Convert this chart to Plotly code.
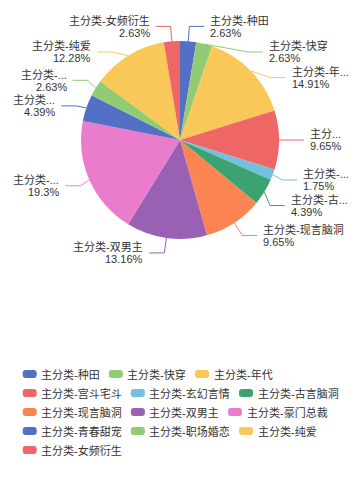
import math
import plotly.graph_objects as go

# ---------------- data ----------------
categories = ["主分类-种田", "主分类-快穿", "主分类-年代", "主分类-宫斗宅斗", "主分类-玄幻言情",
              "主分类-古言脑洞", "主分类-现言脑洞", "主分类-双男主", "主分类-豪门总裁",
              "主分类-青春甜宠", "主分类-职场婚恋", "主分类-纯爱", "主分类-女频衍生"]
counts = [3, 3, 17, 11, 2, 5, 11, 15, 22, 5, 3, 14, 3]
palette = ["#5470c6", "#91cc75", "#fac858", "#ee6666", "#73c0de",
           "#3ba272", "#fc8452", "#9a60b4", "#ea7ccc"]

# ---------------- layout constants ----------------
W, H = 360, 480
CX, CY, R = 180.0, 140.0, 99.0
LEN1, LEN2, DIST = 15.0, 15.0, 5.0
LABEL_H = 25.6
EDGE = 11.8
FS = 11
FONT = "Liberation Sans, Noto Sans CJK SC, sans-serif"
TXT = "#333333"
L_UP, L_DN = 6.1, 6.4          # offsets of the two label lines
LEG_X0, LEG_Y0, LEG_DY = 22.7, 374.0, 19.0
ICON_W, ICON_H, ICON_R = 14.0, 8.0, 3.0
ICON_TXT, ITEM_GAP = 17.5, 10.0

colors = [palette[i % len(palette)] for i in range(len(categories))]
total = float(sum(counts))


def pct_text(v):
    s = "%.2f" % round(v / total * 100, 2)
    s = s.rstrip("0").rstrip(".")
    return s + "%"


def char_w(c):
    if ord(c) > 0x2E80:
        return FS * 1.0
    if c == "-":
        return FS * 0.333
    if c == ".":
        return FS * 0.278
    if c == "%":
        return FS * 0.889
    return FS * 0.556


def text_w(s):
    return sum(char_w(c) for c in s)


def truncate(s, avail):
    if text_w(s) <= avail:
        return s
    ell = "..."
    for n in range(len(s) - 1, 0, -1):
        t = s[:n] + ell
        if text_w(t) <= avail:
            return t
    return ell


# ---------------- label layout (pie outer labels) ----------------
items = []
acc = 0.0
for i, v in enumerate(counts):
    mid = (acc + v / 2.0) / total * 2 * math.pi
    acc += v
    dx, dy = math.sin(mid), -math.cos(mid)
    d = -1 if dx < 0 else 1
    x1, y1 = CX + R * dx, CY + R * dy
    x2, y2 = CX + (R + LEN1) * dx, CY + (R + LEN1) * dy
    x3 = x2 + d * LEN2
    items.append(dict(i=i, d=d, x1=x1, y1=y1, x=x3 + d * DIST, y=y2))


def shift_side(lst):
    lst.sort(key=lambda it: it["y"])
    last = 0.0
    adjusted = False
    for it in lst:
        top = it["y"] - LABEL_H / 2
        delta = top - last
        if delta < 0:
            it["y"] -= delta
            adjusted = True
        last = it["y"] + LABEL_H / 2
    return adjusted


def recalc_x(lst, d):
    semis = [dict(list=[], maxY=0.0, rB=R + LEN1), dict(list=[], maxY=0.0, rB=R + LEN1)]
    rA = R + LEN1
    for it in lst:
        semi = semis[1] if it["y"] > CY else semis[0]
        dyy = abs(it["y"] - CY)
        if dyy >= semi["maxY"]:
            dxx = it["x"] - CX - LEN2 * d
            if abs(dxx) < rA:
                semi["rB"] = math.sqrt(dyy * dyy / (1 - dxx * dxx / rA / rA))
            else:
                semi["rB"] = rA
            semi["maxY"] = dyy
        semi["list"].append(it)
    for semi in semis:
        rB = semi["rB"]
        for it in semi["list"]:
            dyy = abs(it["y"] - CY)
            k = max(0.0, 1 - dyy * dyy / (rB * rB))
            it["x"] = CX + (math.sqrt(k) * rA + LEN2) * d


for d in (1, -1):
    side = [it for it in items if it["d"] == d]
    if len(side) > 1 and shift_side(side):
        recalc_x(side, d)

# ---------------- figure ----------------
fig = go.Figure()

fig.add_trace(go.Pie(
    labels=categories, values=counts, sort=False, direction="clockwise", rotation=0,
    marker=dict(colors=colors, line=dict(width=0)),
    textinfo="none", hoverinfo="label+percent", showlegend=False,
    domain=dict(x=[(CX - R) / W, (CX + R) / W], y=[1 - (CY + R) / H, 1 - (CY - R) / H]),
))

annotations = []
shapes = []
for it in items:
    i, d = it["i"], it["d"]
    end_x = it["x"] - d * DIST
    elbow_x = end_x - d * LEN2
    fig.add_trace(go.Scatter(
        x=[it["x1"], elbow_x, end_x], y=[it["y1"], it["y"], it["y"]],
        mode="lines", line=dict(color=colors[i], width=1),
        hoverinfo="skip", showlegend=False, xaxis="x", yaxis="y",
    ))
    avail = (W - it["x"] - EDGE) if d > 0 else (it["x"] - EDGE)
    name = truncate(categories[i], avail)
    anchor = "left" if d > 0 else "right"
    annotations.append(dict(x=it["x"], y=it["y"] - L_UP, xref="x", yref="y", text=name,
                            showarrow=False, xanchor=anchor, yanchor="middle", borderpad=0,
                            font=dict(size=FS, color=TXT, family=FONT)))
    annotations.append(dict(x=it["x"], y=it["y"] + L_DN, xref="x", yref="y", text=pct_text(counts[i]),
                            showarrow=False, xanchor=anchor, yanchor="middle", borderpad=0,
                            font=dict(size=FS, color=TXT, family=FONT)))


# ---------------- legend (flow layout, bottom) ----------------
def rrect(x0, y0, w, h, r):
    return ("M%.2f,%.2f L%.2f,%.2f Q%.2f,%.2f %.2f,%.2f L%.2f,%.2f Q%.2f,%.2f %.2f,%.2f "
            "L%.2f,%.2f Q%.2f,%.2f %.2f,%.2f L%.2f,%.2f Q%.2f,%.2f %.2f,%.2f Z") % (
        x0 + r, y0, x0 + w - r, y0, x0 + w, y0, x0 + w, y0 + r,
        x0 + w, y0 + h - r, x0 + w, y0 + h, x0 + w - r, y0 + h,
        x0 + r, y0 + h, x0, y0 + h, x0, y0 + h - r,
        x0, y0 + r, x0, y0, x0 + r, y0)


lx, row = LEG_X0, 0
for i, name in enumerate(categories):
    tw = text_w(name)
    if lx > LEG_X0 and lx + ICON_TXT + tw > W - ITEM_GAP:
        lx, row = LEG_X0, row + 1
    ly = LEG_Y0 + row * LEG_DY
    shapes.append(dict(type="path", xref="x", yref="y",
                       path=rrect(lx, ly - ICON_H / 2, ICON_W, ICON_H, ICON_R),
                       fillcolor=colors[i], line=dict(width=0), layer="above"))
    annotations.append(dict(x=lx + ICON_TXT, y=ly, xref="x", yref="y", text=name,
                            showarrow=False, xanchor="left", yanchor="middle", borderpad=0,
                            font=dict(size=FS, color=TXT, family=FONT)))
    lx += ICON_TXT + tw + ITEM_GAP

fig.update_layout(
    width=W, height=H,
    margin=dict(l=0, r=0, t=0, b=0),
    paper_bgcolor="white", plot_bgcolor="rgba(0,0,0,0)",
    font=dict(family=FONT, size=FS, color=TXT),
    xaxis=dict(range=[0, W], visible=False, fixedrange=True, domain=[0, 1]),
    yaxis=dict(range=[H, 0], visible=False, fixedrange=True, domain=[0, 1]),
    annotations=annotations,
    shapes=shapes,
    showlegend=False,
)

fig.write_html("out.html")
